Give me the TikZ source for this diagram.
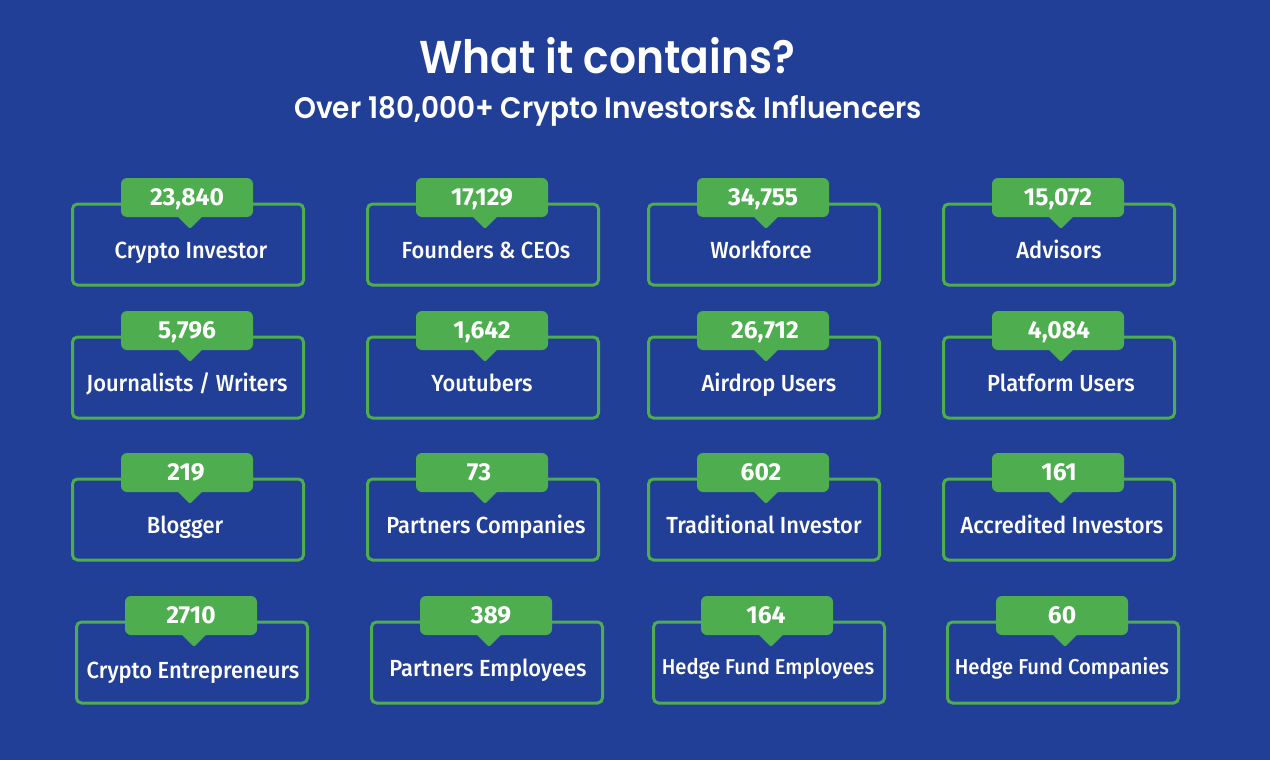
\documentclass[tikz,border=0pt]{standalone}
\usepackage{fontspec}
\usetikzlibrary{shapes.geometric}
\setmainfont{Fira Sans}
\newfontfamily\titlefont[FakeStretch=0.92]{Poppins SemiBold}
\newfontfamily\subtitlefont[FakeStretch=0.94]{Poppins SemiBold}
\newfontfamily\labelfont[FakeStretch=0.94]{Fira Sans Medium}
\definecolor{pagebg}{HTML}{223F97}
\definecolor{cardgreen}{HTML}{4EAD4E}

\begin{document}
\begin{tikzpicture}[x=1pt,y=-1pt,
    card/.style ={rectangle, draw=cardgreen, line width=3pt, rounded corners=5pt, minimum width=231pt, minimum height=81pt, inner sep=0pt},
    badge/.style ={rectangle, fill=cardgreen, rounded corners=6pt, minimum width=132pt, minimum height=39pt, inner sep=0pt},
    tip/.style ={diamond, fill=cardgreen, rounded corners=2pt, minimum width=27pt, minimum height=27pt, inner sep=0pt},
    number/.style ={text=white, font=\fontsize{24.6}{24.6}\selectfont\bfseries, inner sep=0pt, text height=17pt, text depth=2pt},
    label/.style ={text=white, font=\labelfont\fontsize{23.3}{23.3}\selectfont, inner sep=0pt, text height=19pt, text depth=3pt},
    smalllabel/.style ={text=white, font=\labelfont\fontsize{21.5}{21.5}\selectfont, inner sep=0pt, text height=18pt, text depth=4pt}]
   \useasboundingbox[fill=pagebg] (0,0) rectangle (1270,760);

   \node[text=white, font=\titlefont\fontsize{46}{46}\selectfont] (title) at (607,56) {What it contains?};
   \node[text=white, font=\subtitlefont\fontsize{29.7}{29.7}\selectfont] (subtitle) at (608,111) {Over 180,000+ Crypto Investors\& Influencers};

   % first row
   \node[card] (A1) at (188,244.5) {};
   \node[tip] (TA1) at (190,215.5) {};
   \node[badge] (BA1) at (187,197.5) {};
   \node[number] (NA1) at (187,197.5) {23,840};
   \node[label] (LA1) at (191,250.5) {Crypto Investor};

   \node[card] (A2) at (483,244.5) {};
   \node[tip] (TA2) at (485,215.5) {};
   \node[badge] (BA2) at (482,197.5) {};
   \node[number] (NA2) at (482,197.5) {17,129};
   \node[label] (LA2) at (486,250.5) {Founders \& CEOs};

   \node[card] (A3) at (764,244.5) {};
   \node[tip] (TA3) at (766,215.5) {};
   \node[badge] (BA3) at (763,197.5) {};
   \node[number] (NA3) at (763,197.5) {34,755};
   \node[label] (LA3) at (761,250.5) {Workforce};

   \node[card] (A4) at (1059,244.5) {};
   \node[tip] (TA4) at (1061,215.5) {};
   \node[badge] (BA4) at (1058,197.5) {};
   \node[number] (NA4) at (1058,197.5) {15,072};
   \node[label] (LA4) at (1059,250.5) {Advisors};

   % second row
   \node[card] (B1) at (188,377.5) {};
   \node[tip] (TB1) at (190,348.5) {};
   \node[badge] (BB1) at (187,330.5) {};
   \node[number] (NB1) at (187,330.5) {5,796};
   \node[label] (LB1) at (187,383.5) {Journalists / Writers};

   \node[card] (B2) at (483,377.5) {};
   \node[tip] (TB2) at (485,348.5) {};
   \node[badge] (BB2) at (482,330.5) {};
   \node[number] (NB2) at (482,330.5) {1,642};
   \node[label] (LB2) at (482,383.5) {Youtubers};

   \node[card] (B3) at (764,377.5) {};
   \node[tip] (TB3) at (766,348.5) {};
   \node[badge] (BB3) at (763,330.5) {};
   \node[number] (NB3) at (765,330.5) {26,712};
   \node[label] (LB3) at (769,383.5) {Airdrop Users};

   \node[card] (B4) at (1059,377.5) {};
   \node[tip] (TB4) at (1061,348.5) {};
   \node[badge] (BB4) at (1058,330.5) {};
   \node[number] (NB4) at (1059,330.5) {4,084};
   \node[label] (LB4) at (1061,383.5) {Platform Users};

   % third row
   \node[card] (C1) at (188,519.5) {};
   \node[tip] (TC1) at (190,490.5) {};
   \node[badge] (BC1) at (187,472.5) {};
   \node[number] (NC1) at (186,472.5) {219};
   \node[label] (LC1) at (185,525.5) {Blogger};

   \node[card] (C2) at (483,519.5) {};
   \node[tip] (TC2) at (485,490.5) {};
   \node[badge] (BC2) at (482,472.5) {};
   \node[number] (NC2) at (479,472.5) {73};
   \node[label] (LC2) at (486,525.5) {Partners Companies};

   \node[card] (C3) at (764,519.5) {};
   \node[tip] (TC3) at (766,490.5) {};
   \node[badge] (BC3) at (763,472.5) {};
   \node[number] (NC3) at (761,472.5) {602};
   \node[label] (LC3) at (764,525.5) {Traditional Investor};

   \node[card] (C4) at (1059,519.5) {};
   \node[tip] (TC4) at (1061,490.5) {};
   \node[badge] (BC4) at (1058,472.5) {};
   \node[number] (NC4) at (1059,472.5) {161};
   \node[label] (LC4) at (1062,525.5) {Accredited Investors};

   % fourth row
   \node[card] (D1) at (192,662.5) {};
   \node[tip] (TD1) at (194,633.5) {};
   \node[badge] (BD1) at (191,615.5) {};
   \node[number] (ND1) at (191,615.5) {2710};
   \node[label] (LD1) at (193,670.5) {Crypto Entrepreneurs};

   \node[card] (D2) at (487,662.5) {};
   \node[tip] (TD2) at (489,633.5) {};
   \node[badge] (BD2) at (486,615.5) {};
   \node[number] (ND2) at (491,615.5) {389};
   \node[label] (LD2) at (488,668.5) {Partners Employees};

   \node[card] (D3) at (769,662.5) {};
   \node[tip] (TD3) at (771,633.5) {};
   \node[badge] (BD3) at (767,615.5) {};
   \node[number] (ND3) at (766,615.5) {164};
   \node[smalllabel] (LD3) at (768,667.5) {Hedge Fund Employees};

   \node[card] (D4) at (1063,662.5) {};
   \node[tip] (TD4) at (1065,633.5) {};
   \node[badge] (BD4) at (1062,615.5) {};
   \node[number] (ND4) at (1062,615.5) {60};
   \node[smalllabel] (LD4) at (1062,667.5) {Hedge Fund Companies};
\end{tikzpicture}
\end{document}
